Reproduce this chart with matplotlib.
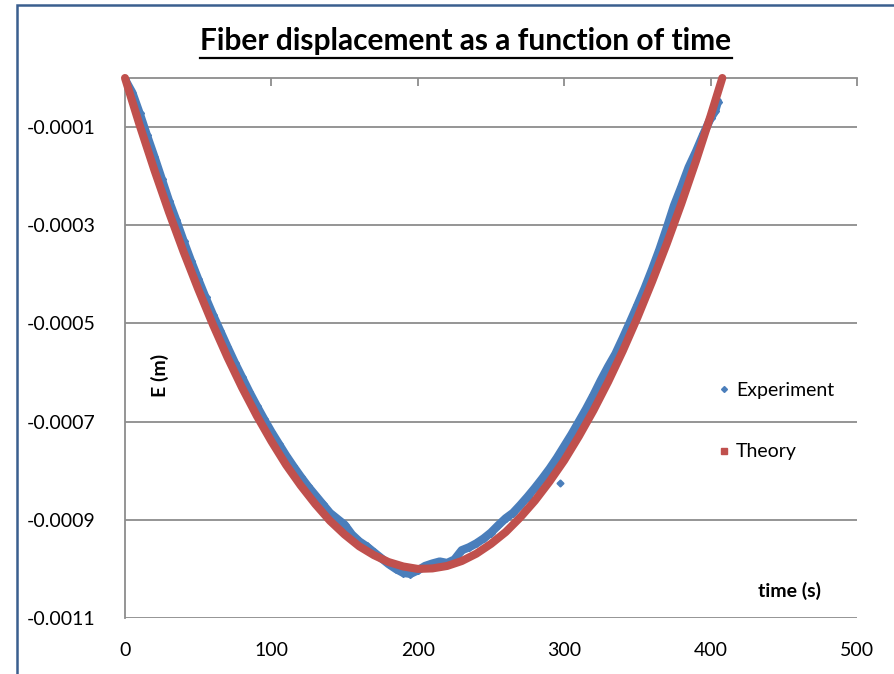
import matplotlib.pyplot as plt
from matplotlib.lines import Line2D
from matplotlib.patches import Rectangle

plt.rcParams['font.family'] = ['Lato', 'DejaVu Sans']

# Theory curve (time in s, displacement in micrometres)
theory_t = [0, 10, 20, 30, 40, 50, 60, 70, 80, 90, 100, 110, 120, 130, 140, 150,
            160, 170, 180, 190, 200, 210, 220, 230, 240, 250, 260, 270, 280, 290,
            300, 310, 320, 330, 340, 350, 360, 370, 380, 390, 400, 408]
theory_um = [0, -96, -187, -273, -354, -430, -502, -569, -631, -688, -740, -788,
             -830, -868, -902, -930, -954, -972, -986, -995, -1000, -999, -994,
             -984, -969, -949, -925, -895, -861, -822, -779, -730, -677, -619,
             -556, -488, -415, -338, -256, -169, -77, 0]

# Experiment points
exp_t = [0, 5, 10, 15, 20, 25, 30, 35, 40, 45, 50, 55, 60, 65, 70, 75, 80, 85, 90,
         95, 100, 105, 110, 115, 120, 125, 130, 135, 140, 145, 150, 155, 160, 165,
         170, 175, 180, 185, 190, 195, 200, 205, 210, 215, 220, 225, 230, 235, 240,
         245, 250, 255, 260, 265, 270, 275, 280, 285, 290, 295, 300, 305, 310, 315,
         320, 325, 330, 335, 340, 345, 350, 355, 360, 365, 370, 375, 380, 385, 390,
         395, 400, 403, 405]
exp_um = [-3, -30, -72, -117, -160, -205, -250, -290, -332, -372, -410, -447, -482,
          -515, -548, -580, -610, -640, -668, -695, -721, -745, -769, -791, -812,
          -832, -850, -868, -886, -898, -910, -930, -944, -954, -966, -978, -990,
          -1000, -1008, -1010, -1003, -994, -989, -985, -988, -981, -962, -956, -948,
          -938, -926, -911, -897, -886, -870, -853, -835, -816, -796, -774, -750,
          -726, -700, -674, -646, -616, -588, -562, -530, -497, -463, -428, -390,
          -350, -306, -260, -222, -182, -150, -115, -82, -68, -48]
outlier_t = [297]
outlier_um = [-825]

yticks = [-0.0001, -0.0003, -0.0005, -0.0007, -0.0009, -0.0011]
xticks = [0, 100, 200, 300, 400, 500]

blue = '#4a7ebb'
red = '#c0504d'
grid_col = '#8c8c8c'

fig = plt.figure(figsize=(8.94, 6.74), dpi=100)
fig.patches.append(Rectangle((16.5 / 894, -0.1), 2, 1.1 - 5.5 / 674, transform=fig.transFigure,
                             fill=False, edgecolor='#3a5f8f', linewidth=1.8))
ax = fig.add_axes([125 / 894, 1 - 618 / 674, 732 / 894, 540 / 674])

exp_e = [v * 1e-6 for v in exp_um]
th_e = [v * 1e-6 for v in theory_um]

ax.plot(exp_t, exp_e, color=blue, lw=6, marker='D', ms=4, zorder=3,
        solid_capstyle='round')
ax.plot(outlier_t, [v * 1e-6 for v in outlier_um], 'D', color=blue, ms=3.5, zorder=3)
ax.plot(theory_t, th_e, color=red, lw=5.8, zorder=4, solid_capstyle='round',
        clip_on=False)

ax.set_xlim(0, 500)
ax.set_ylim(-0.0011, 0)
ax.set_xticks(xticks)
ax.set_xticklabels([str(x) for x in xticks])
ax.set_yticks(yticks)
ax.set_yticklabels(['%.4f' % y for y in yticks])
ax.grid(axis='y', color=grid_col, lw=1.3)
ax.set_axisbelow(True)

for s in ['right', 'bottom']:
    ax.spines[s].set_visible(False)
for s in ['left', 'top']:
    ax.spines[s].set_color(grid_col)
    ax.spines[s].set_linewidth(1.3)

ax.tick_params(axis='x', top=True, bottom=False, direction='in', length=6,
               color=grid_col, width=1.3, labeltop=False, labelbottom=True,
               labelsize=14, pad=17)
ax.tick_params(axis='y', left=False, labelsize=14, pad=18)

ax.text(0.048, 0.45, 'E (m)', transform=ax.transAxes, rotation=90, fontsize=14,
        fontweight='bold', ha='center', va='center')
ax.text(0.908, 0.05, 'time (s)', transform=ax.transAxes, fontsize=14,
        fontweight='bold', ha='center', va='center')

handles = [Line2D([], [], ls='none', marker='D', ms=3, color=blue),
           Line2D([], [], ls='none', marker='s', ms=4, color=red)]
ax.legend(handles, ['Experiment', 'Theory'], loc='center left',
          bbox_to_anchor=(701 / 894, 1 - 421 / 674), bbox_transform=fig.transFigure,
          frameon=False, fontsize=14, labelspacing=2.3, handlelength=0.6,
          handletextpad=0.3)

title = fig.text(466 / 894, 1 - 41 / 674, 'Fiber displacement as a function of time',
                 fontsize=21.5, fontweight='bold', ha='center', va='center')
fig.canvas.draw()
bb = title.get_window_extent()
uy = 1 - 58 / 674
fig.add_artist(Line2D([bb.x0 / 894, bb.x1 / 894], [uy, uy], transform=fig.transFigure,
                      color='black', lw=1.6))

fig.savefig('out.png', dpi=100)
